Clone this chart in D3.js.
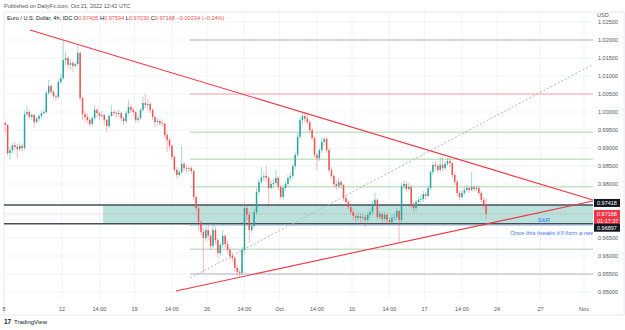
<!DOCTYPE html>
<html>
<head>
<meta charset="utf-8">
<script src="https://cdn.jsdelivr.net/npm/d3@7"></script>
<style>
  body { margin: 0; background: #fff; }
  svg { display: block; font-family: "Liberation Sans", Arial, sans-serif; }
</style>
</head>
<body>
<script>
// EUR/USD 4h candles, Sep 6 - Oct 21 2022
var firstOpen = 0.9969;
var closes = [
  .9964,.9886,.9894,.9908,.9903,.9897,.9906,.9900,.9994,1.0000,
  .9986,.9992,.9972,.9981,.9989,.9997,1.0000,1.0053,1.0072,1.0056,
  1.0044,1.0042,1.0083,1.0094,1.0144,1.0150,1.0131,1.0136,1.0128,1.0133,
  1.0164,1.0039,.9994,.9986,.9978,.9967,.9983,1.0006,.9997,.9989,
  .9992,.9978,.9961,.9989,1.0000,.9997,.9994,.9997,.9983,.9975,
  .9997,1.0014,1.0006,1.0000,.9978,.9983,1.0006,1.0025,1.0019,1.0022,
  1.0006,.9986,.9972,.9975,.9969,.9967,.9936,.9922,.9906,.9875,
  .9839,.9825,.9833,.9856,.9844,.9842,.9844,.9836,.9764,.9733,
  .9694,.9667,.9650,.9672,.9656,.9628,.9672,.9644,.9608,.9631,
  .9656,.9633,.9617,.9600,.9594,.9567,.9556,.9553,.9617,.9733,
  .9714,.9672,.9683,.9722,.9778,.9806,.9819,.9822,.9817,.9789,
  .9800,.9803,.9817,.9792,.9764,.9789,.9800,.9817,.9822,.9850,
  .9881,.9931,.9978,.9989,.9981,.9972,.9950,.9928,.9881,.9872,
  .9894,.9917,.9925,.9894,.9839,.9822,.9800,.9794,.9806,.9797,
  .9761,.9750,.9736,.9722,.9711,.9706,.9711,.9706,.9708,.9700,
  .9714,.9722,.9744,.9756,.9708,.9717,.9703,.9714,.9700,.9694,
  .9706,.9708,.9725,.9700,.9794,.9800,.9786,.9792,.9742,.9733,
  .9750,.9756,.9758,.9772,.9767,.9789,.9833,.9853,.9850,.9839,
  .9853,.9844,.9856,.9864,.9858,.9825,.9806,.9775,.9764,.9775,
  .9783,.9789,.9783,.9792,.9786,.9789,.9775,.9756,.97405,.97168
];
var highs = [
  .9975,.9967,.9905,.9914,.9917,.9911,.9914,.9911,1.0003,1.0017,
  1.0006,.9997,.9994,.9986,.9994,1.0003,1.0008,1.0058,1.0089,1.0078,
  1.0061,1.0050,1.0092,1.0106,1.0200,1.0167,1.0156,1.0147,1.0142,1.0139,
  1.0186,1.0169,1.0042,1.0003,.9994,.9983,.9989,1.0019,1.0011,1.0000,
  1.0003,.9994,.9981,.9994,1.0019,1.0006,1.0003,1.0006,1.0000,.9989,
  1.0003,1.0033,1.0022,1.0011,1.0003,.9992,1.0011,1.0044,1.0050,1.0036,
  1.0028,1.0011,.9989,.9983,.9981,.9978,.9972,.9942,.9928,.9911,
  .9881,.9847,.9842,.9906,.9861,.9853,.9850,.9850,.9842,.9767,
  .9742,.9700,.9678,.9681,.9686,.9664,.9694,.9681,.9650,.9639,
  .9672,.9661,.9642,.9625,.9611,.9600,.9575,.9564,.9625,.9750,
  .9744,.9722,.9692,.9731,.9789,.9814,.9847,.9833,.9850,.9822,
  .9811,.9814,.9839,.9822,.9797,.9797,.9808,.9825,.9833,.9856,
  .9889,.9942,.9986,.9997,1.0000,.9997,.9978,.9956,.9933,.9886,
  .9900,.9928,.9931,.9931,.9900,.9847,.9828,.9811,.9817,.9811,
  .9800,.9769,.9756,.9744,.9731,.9717,.9722,.9719,.9717,.9714,
  .9722,.9731,.9753,.9775,.9761,.9725,.9722,.9722,.9719,.9708,
  .9714,.9717,.9733,.9728,.9803,.9811,.9808,.9803,.9797,.9750,
  .9756,.9764,.9769,.9781,.9778,.9797,.9839,.9861,.9864,.9856,
  .9875,.9875,.9864,.9872,.9872,.9861,.9831,.9811,.9781,.9781,
  .9792,.9797,.9794,.9833,.9797,.9797,.9794,.9781,.9764,.97594
];
var lows = [
  .9942,.9878,.9867,.9886,.9894,.9872,.9892,.9889,.9894,.9989,
  .9981,.9978,.9956,.9967,.9975,.9983,.9992,.9994,1.0047,1.0050,
  1.0036,1.0031,1.0036,1.0078,1.0089,1.0131,1.0122,1.0117,1.0111,1.0122,
  1.0128,1.0031,.9978,.9972,.9969,.9958,.9961,.9978,.9986,.9978,
  .9983,.9964,.9944,.9956,.9986,.9989,.9983,.9986,.9975,.9964,
  .9969,.9992,.9997,.9989,.9969,.9972,.9978,1.0000,1.0011,1.0008,
  .9997,.9978,.9958,.9964,.9961,.9958,.9928,.9889,.9897,.9867,
  .9831,.9814,.9819,.9828,.9836,.9831,.9833,.9828,.9756,.9725,
  .9672,.9656,.9553,.9642,.9644,.9617,.9622,.9633,.9594,.9600,
  .9622,.9622,.9606,.9589,.9583,.9556,.9544,.9542,.9547,.9606,
  .9700,.9636,.9664,.9675,.9714,.9769,.9800,.9808,.9806,.9736,
  .9783,.9789,.9797,.9783,.9758,.9756,.9781,.9792,.9808,.9814,
  .9842,.9875,.9925,.9964,.9972,.9964,.9942,.9919,.9872,.9839,
  .9864,.9886,.9908,.9886,.9831,.9814,.9792,.9783,.9789,.9786,
  .9753,.9739,.9728,.9714,.9700,.9694,.9697,.9692,.9697,.9678,
  .9694,.9706,.9714,.9739,.9700,.9700,.9692,.9697,.9689,.9686,
  .9689,.9697,.9700,.9636,.9692,.9786,.9778,.9781,.9733,.9722,
  .9725,.9742,.9747,.9750,.9756,.9761,.9781,.9825,.9839,.9831,
  .9833,.9836,.9839,.9850,.9847,.9817,.9797,.9767,.9756,.9758,
  .9769,.9778,.9775,.9781,.9778,.9781,.9767,.9750,.9733,.97030
];

// time axis (trading days, Sep 5 = 0) and its labels
var tickDays   = [5, 7.583, 10, 12.583, 15, 17.583, 20, 22.583, 25, 27.583, 30, 32.583, 35, 38, 41];
var tickLabels = ["12","14:00","19","14:00","26","14:00","Oct","14:00","10","14:00","17","14:00","24","27","Nov"];

// price axis
var priceTicks = [1.025,1.02,1.015,1.01,1.005,1.0,0.995,0.99,0.985,0.98,0.975,0.97,0.965,0.96,0.955,0.95];

// drawings: horizontal levels, zone, trend lines [day, price]
var levelPrices = [1.0200, 1.0050, 0.9944, 0.9869, 0.9792, 0.9685, 0.9619, 0.9550];
var levelKinds  = ["gray", "red", "green", "green", "green", "blue", "green", "gray"];
var levelStart  = 13.83;
var zone = {from: 7.83, top: 0.97418, bottom: 0.96897};
var upperTrend  = [[2.79, 1.02278], [41.62, 0.97556]];
var lowerTrend  = [[12.86, 0.95028], [41.62, 0.97528]];
var dottedTrend = [[13.83, 0.95389], [41.55, 1.01306]];
var lastPrice = 0.97168;
var notes = [
  {d: 37.8, p: 0.9694, text: "S&R"},
  {d: 35.9, p: 0.9658, text: "Once this breaks it'll form a new low"}
];

var W = 625, H = 330;
var pane = {l: 4, r: 593, t: 12, b: 300};

var svg = d3.select("body").append("svg").attr("width", W).attr("height", H);

var x = d3.scaleLinear().domain([5, 41]).range([62, 584]);
var y = d3.scaleLinear().domain([1.02, 0.95]).range([40, 292]);

var kindColor = {gray: "#b2b5be", red: "#f7a0a0", green: "#a5d6a7", blue: "#b3d4f5"};
var up = "#26a69a", down = "#ef5350";

svg.append("clipPath").attr("id", "pane")
  .append("rect").attr("x", pane.l).attr("y", pane.t)
  .attr("width", pane.r - pane.l).attr("height", pane.b - pane.t);

// header text
svg.append("text").attr("x", 4).attr("y", 8).attr("font-size", 5.5).attr("fill", "#50535e")
  .text("Published on DailyFx.com, Oct 21, 2022 12:42 UTC");

// frame
svg.append("rect").attr("x", pane.l).attr("y", pane.t).attr("width", W - pane.l - 1).attr("height", 303)
  .attr("fill", "none").attr("stroke", "#e0e3eb").attr("stroke-width", 0.8);

var g = svg.append("g").attr("clip-path", "url(#pane)");

// grid
g.selectAll(".vg").data(tickDays).enter().append("line")
  .attr("x1", d => x(d)).attr("x2", d => x(d)).attr("y1", pane.t).attr("y2", pane.b)
  .attr("stroke", "#f0f3fa").attr("stroke-width", 1);
g.selectAll(".hg").data(priceTicks).enter().append("line")
  .attr("x1", pane.l).attr("x2", pane.r).attr("y1", d => y(d)).attr("y2", d => y(d))
  .attr("stroke", "#f0f3fa").attr("stroke-width", 1);

// zone
g.append("rect").attr("x", x(zone.from)).attr("y", y(zone.top))
  .attr("width", pane.r - x(zone.from)).attr("height", y(zone.bottom) - y(zone.top))
  .attr("fill", "#b2dfd8").attr("opacity", 0.9);

// levels
g.selectAll(".lvl").data(levelPrices).enter().append("line")
  .attr("x1", x(levelStart)).attr("x2", pane.r)
  .attr("y1", d => y(d)).attr("y2", d => y(d))
  .attr("stroke", (d, i) => kindColor[levelKinds[i]]).attr("stroke-width", 1);

// zone edges
g.selectAll(".ze").data([zone.top, zone.bottom]).enter().append("line")
  .attr("x1", pane.l).attr("x2", pane.r).attr("y1", d => y(d)).attr("y2", d => y(d))
  .attr("stroke", "#4a4d57").attr("stroke-width", 1.4);

// last price line
g.append("line").attr("x1", pane.l).attr("x2", pane.r).attr("y1", y(lastPrice)).attr("y2", y(lastPrice))
  .attr("stroke", "#ef5350").attr("stroke-width", 0.6).attr("stroke-dasharray", "1,1").attr("opacity", 0.6);

// dotted trend
g.append("line")
  .attr("x1", x(dottedTrend[0][0])).attr("y1", y(dottedTrend[0][1]))
  .attr("x2", x(dottedTrend[1][0])).attr("y2", y(dottedTrend[1][1]))
  .attr("stroke", "#b2b5be").attr("stroke-width", 1).attr("stroke-dasharray", "2,2");

// candles
var candles = closes.map(function(c, i) {
  var o = i === 0 ? firstOpen : closes[i - 1];
  return {d: 1 + i / 6 + 1 / 12, o: o, h: highs[i], l: lows[i], c: c};
});
var bw = (x(1 / 6) - x(0)) * 0.62;

g.selectAll(".wick").data(candles).enter().append("line")
  .attr("x1", d => x(d.d)).attr("x2", d => x(d.d))
  .attr("y1", d => y(d.h)).attr("y2", d => y(d.l))
  .attr("stroke", d => d.c >= d.o ? up : down).attr("stroke-width", 0.8).attr("opacity", 0.5);

g.selectAll(".body").data(candles).enter().append("rect")
  .attr("x", d => x(d.d) - bw / 2).attr("width", bw)
  .attr("y", d => y(Math.max(d.o, d.c)))
  .attr("height", d => Math.max(0.8, Math.abs(y(d.o) - y(d.c))))
  .attr("fill", d => d.c >= d.o ? up : down);

// trend lines
[upperTrend, lowerTrend].forEach(function(t) {
  svg.append("line")
    .attr("x1", x(t[0][0])).attr("y1", y(t[0][1]))
    .attr("x2", x(t[1][0])).attr("y2", y(t[1][1]))
    .attr("stroke", "#f23645").attr("stroke-width", 1.1);
});

// annotations
g.selectAll(".note").data(notes).enter().append("text")
  .attr("x", d => x(d.d)).attr("y", d => y(d.p))
  .attr("font-size", 6).attr("fill", "#3d74f5").attr("font-style", "italic")
  .text(d => d.text);

// legend line
var leg = svg.append("text").attr("x", 7).attr("y", 20).attr("font-size", 5.6).attr("fill", "#131722");
leg.append("tspan").text("Euro / U.S. Dollar, 4h, IDC  ");
[["O", "0.97405"], ["H", "0.97594"], ["L", "0.97030"], ["C", "0.97168"]].forEach(function(p) {
  leg.append("tspan").attr("fill", "#131722").text(p[0]);
  leg.append("tspan").attr("fill", "#ef5350").text(p[1] + " ");
});
leg.append("tspan").attr("fill", "#ef5350").text("\u22120.00234 (\u22120.24%)");

// price axis
svg.append("text").attr("x", 597).attr("y", 17).attr("font-size", 5.5).attr("fill", "#50535e").text("USD");
svg.selectAll(".pt").data(priceTicks.filter(p => p !== 0.97 && p !== 0.975)).enter().append("text")
  .attr("x", 598).attr("y", d => y(d) + 2).attr("font-size", 5.5).attr("fill", "#50535e")
  .text(d => d.toFixed(5));

// price tags
function tag(p, fill, lines, dy) {
  var t = y(p) + dy;
  svg.append("rect").attr("x", 594).attr("y", t - 4).attr("width", 26).attr("height", 8 * lines.length)
    .attr("fill", fill);
  lines.forEach(function(s, i) {
    svg.append("text").attr("x", 597).attr("y", t + 2 + i * 7).attr("font-size", 5.5).attr("fill", "#fff").text(s);
  });
}
tag(zone.top, "#131722", ["0.97418"], -2);
tag(lastPrice, "#f23645", ["0.97168", "01:17:37"], 0);
tag(zone.bottom, "#131722", ["0.96897"], 4);

// time axis
svg.selectAll(".tt").data(tickDays).enter().append("text")
  .attr("x", d => x(d)).attr("y", 311).attr("text-anchor", "middle")
  .attr("font-size", 5.5).attr("fill", "#50535e").text((d, i) => tickLabels[i]);
svg.append("text").attr("x", 4).attr("y", 311).attr("text-anchor", "middle")
  .attr("font-size", 5.5).attr("fill", "#50535e").text("5");

// logo
svg.append("text").attr("x", 4).attr("y", 324).attr("font-size", 6.5).attr("font-weight", "bold")
  .attr("fill", "#131722").text("17");
svg.append("text").attr("x", 14).attr("y", 324).attr("font-size", 6).attr("fill", "#131722").text("TradingView");
</script>
</body>
</html>
